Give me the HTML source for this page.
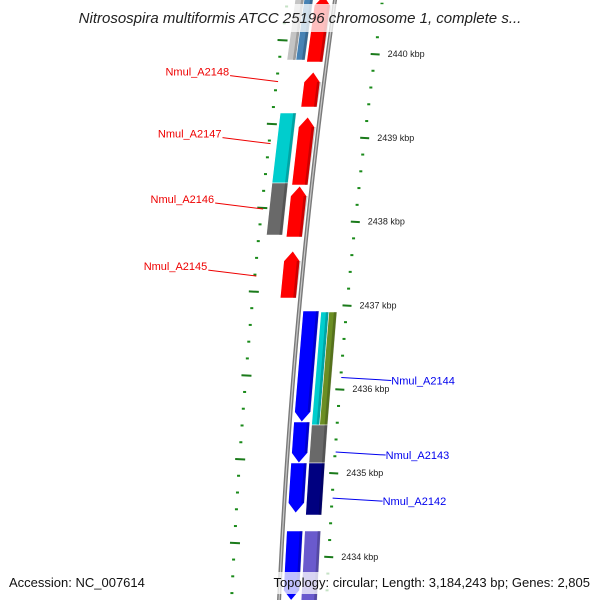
<!DOCTYPE html>
<html><head><meta charset="utf-8"><style>
html,body{margin:0;padding:0;background:#fff}
svg{display:block;font-family:"Liberation Sans","DejaVu Sans",sans-serif}
</style></head><body>
<svg id="map" width="600" height="600" viewBox="0 0 600 600">
<path id="backbone" fill="none" stroke="#7a7a7a" stroke-width="4"/>
<path id="backbone-hi" fill="none" stroke="#c8c8c8" stroke-width="1.2"/>
<g id="ticks"></g>
<g id="genes"></g>
<g id="labels"></g>
<rect x="60" y="4" width="480" height="28" fill="#fff" fill-opacity="0.75"/>
<text x="300" y="23" text-anchor="middle" font-size="15" font-style="italic" fill="#222">Nitrosospira multiformis ATCC 25196 chromosome 1, complete s...</text>
<rect x="4" y="572" width="140" height="22" fill="#fff" fill-opacity="0.75"/>
<text x="9" y="587" font-size="13" fill="#111">Accession: NC_007614</text>
<rect x="258" y="572" width="336" height="22" fill="#fff" fill-opacity="0.75"/>
<text x="590" y="587" text-anchor="end" font-size="13" fill="#111">Topology: circular; Length: 3,184,243 bp; Genes: 2,805</text>
</svg>
<script>
// data (positions in kbp)
const majorTicks = [2434, 2435, 2436, 2437, 2438, 2439, 2440];
const majorLabels = ["2434 kbp","2435 kbp","2436 kbp","2437 kbp","2438 kbp","2439 kbp","2440 kbp"];
const geneStarts = [2439.905, 2439.368, 2438.437, 2437.816, 2437.088, 2439.928, 2439.928, 2438.461, 2437.840, 2435.609, 2435.119, 2434.523, 2433.480, 2435.573, 2435.573, 2435.119, 2434.499, 2433.480];
const geneEnds   = [2440.700, 2439.785, 2439.248, 2438.425, 2437.649, 2440.700, 2440.700, 2439.296, 2438.461, 2436.933, 2435.609, 2435.119, 2434.308, 2436.921, 2436.921, 2435.573, 2435.119, 2434.308];
const geneStrands = [-1,-1,-1,-1,-1, 0,0,0,0, 1,1,1,1, 0,0,0,0,0];
const geneColors = ["#ff0000","#ff0000","#ff0000","#ff0000","#ff0000","#c4c4c4","#4682b4","#00cdcd","#696969","#0000ff","#0000ff","#0000ff","#0000ff","#00cdcd","#6b8e23","#696969","#000080","#6a5acd"];
const geneInner = [-20,-20,-20,-20,-20,-40,-31,-40,-40,4,4,4,4,22,30,22,22,22];
const geneOuter = [-4,-4,-4,-4,-4,-31,-22,-24,-24,20,20,20,20,30,38,38,38,38];
const labelNames = ["Nmul_A2148","Nmul_A2147","Nmul_A2146","Nmul_A2145","Nmul_A2144","Nmul_A2143","Nmul_A2142"];
const labelKbp = [2439.67, 2438.93, 2438.15, 2437.35, 2436.14, 2435.25, 2434.70];
const labelSides = [-1,-1,-1,-1,1,1,1];

const NS='http://www.w3.org/2000/svg';
function yOf(k){ return 54 + (2440 - k) * 83.8; }
function bx(y){ return 335 - 0.14*y + 7.8e-5*y*y; }
function el(tag, attrs, parent){ const e=document.createElementNS(NS,tag); for(const a in attrs) e.setAttribute(a,attrs[a]); parent.appendChild(e); return e; }

// backbone
let d='';
for(let y=-5;y<=605;y+=5){ d+=(y===-5?'M':'L')+bx(y).toFixed(2)+' '+y+' '; }
document.getElementById('backbone').setAttribute('d',d);
document.getElementById('backbone-hi').setAttribute('d',d);

// ticks
const tg=document.getElementById('ticks');
for(let i=0;i<majorTicks.length;i++){
  const y=yOf(majorTicks[i]);
  const t=el('line',{x1:bx(y)+43,y1:y,x2:bx(y)+52,y2:y+0.5,stroke:'#1a7a1a','stroke-width':2},tg);
  
  
  const tx=el('text',{x:bx(y)+60,y:y+3,'font-size':9,fill:'#222'},tg);
  tx.textContent=majorLabels[i];
  
  
}
for(let k=2433.4;k<=2440.8;k+=0.2){
  const kk=Math.round(k*10)/10;
  const isMajor=Math.abs(kk-Math.round(kk))<0.01;
  const y=yOf(kk);
  if(!isMajor && y>-5 && y<605){
    const c=el('rect',{x:bx(y)+46,y:y-1,width:3,height:2,fill:'#1a8a1a'},tg);
    
    
  }
  const yl=y-14;
  if(yl>-5&&yl<605){
    if(isMajor){
      const m=el('line',{x1:bx(yl)-52,y1:yl,x2:bx(yl)-42,y2:yl+0.5,stroke:'#1a7a1a','stroke-width':2},tg);
      
      
    } else {
      const m=el('rect',{x:bx(yl)-49,y:yl-1,width:3,height:2,fill:'#1a8a1a'},tg);
      
      
    }
  }
}

// genes
const gg=document.getElementById('genes');
for(let i=0;i<geneStarts.length;i++){
  const yTop=yOf(geneEnds[i]), yBot=yOf(geneStarts[i]);
  const a=geneInner[i], b=geneOuter[i], s=geneStrands[i];
  const tip=10;
  let pts=[];
  if(s===-1){
    const ym=yTop+tip;
    pts=[[bx(ym)+a,ym],[bx(yTop)+(a+b)/2,yTop],[bx(ym)+b,ym],[bx(yBot)+b,yBot],[bx(yBot)+a,yBot]];
  } else if(s===1){
    const ym=yBot-tip;
    pts=[[bx(yTop)+a,yTop],[bx(yTop)+b,yTop],[bx(ym)+b,ym],[bx(yBot)+(a+b)/2,yBot],[bx(ym)+a,ym]];
  } else {
    pts=[[bx(yTop)+a,yTop],[bx(yTop)+b,yTop],[bx(yBot)+b,yBot],[bx(yBot)+a,yBot]];
  }
  const p=el('polygon',{points:pts.map(q=>q[0].toFixed(1)+','+q[1].toFixed(1)).join(' '),fill:geneColors[i],stroke:'#ffffff','stroke-width':0.6},gg);
  
  
  // shading strip
  const e=el('polygon',{points:[[bx(yTop+ (s===-1?tip:0))+b-3,yTop+(s===-1?tip:0)],[bx(yTop)+b,yTop+(s===-1?tip:0)],[bx(yBot-(s===1?tip:0))+b,yBot-(s===1?tip:0)],[bx(yBot-(s===1?tip:0))+b-3,yBot-(s===1?tip:0)]].map(q=>q[0].toFixed(1)+','+q[1].toFixed(1)).join(' '),fill:'#000','fill-opacity':0.2},gg);
  
  
}

// labels
const lg=document.getElementById('labels');
for(let i=0;i<labelNames.length;i++){
  const y=yOf(labelKbp[i]);
  const side=labelSides[i];
  const col=side<0?'#ee0000':'#0000ee';
  let x1,x2,ty;
  if(side<0){ x1=bx(y)-46; x2=x1-48; ty=y-6; }
  else { x1=bx(y)+48; x2=x1+50; ty=y+3; }
  const l=el('line',{x1:x1,y1:y,x2:x2,y2:ty,stroke:col,'stroke-width':1},lg);
  
  
  const t=el('text',{x:side<0?x2-1:x2,y:ty+(side<0?0:4),'font-size':11,fill:col,'text-anchor':side<0?'end':'start'},lg);
  t.textContent=labelNames[i];
  
  
}
</script>
</body></html>
